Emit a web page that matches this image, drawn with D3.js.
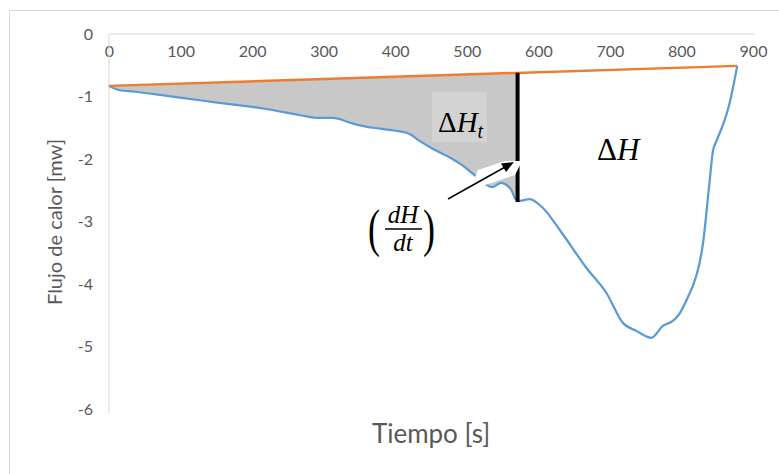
<!DOCTYPE html>
<html>
<head>
<meta charset="utf-8">
<script src="https://cdn.jsdelivr.net/npm/d3@7"></script>
<style>
  body { margin: 0; background: #fff; }
  svg { display: block; }
</style>
</head>
<body>
<svg id="chart" width="779" height="474"></svg>
<script>
// heat flow curve (time s, flow mW)
const time = [0, 15, 34, 81, 127, 174, 220, 267, 290, 313, 337, 346, 369, 402, 420, 434, 453, 472, 495, 509,
  536, 548, 562, 568, 574, 588, 606, 634, 667, 695, 718, 737, 758, 774, 788, 797, 811, 816, 825, 830,
  839, 844, 849, 860, 867, 872, 878];
const flow = [-0.83, -0.90, -0.92, -0.99, -1.06, -1.13, -1.20, -1.30, -1.34, -1.34, -1.42, -1.45, -1.50, -1.55, -1.60, -1.71, -1.84, -1.95, -2.11, -2.24,
  -2.45, -2.38, -2.49, -2.64, -2.67, -2.64, -2.78, -3.20, -3.74, -4.14, -4.62, -4.75, -4.86, -4.67, -4.59, -4.48, -4.16, -4.03, -3.68, -3.36,
  -2.40, -1.87, -1.71, -1.39, -1.12, -0.86, -0.51];
// baseline
const baseTime = [0, 878];
const baseFlow = [-0.83, -0.51];
// time of the cut
const cutTime = 571;

const xTicks = [0, 100, 200, 300, 400, 500, 600, 700, 800, 900];
const yTicks = [0, -1, -2, -3, -4, -5, -6];

const svg = d3.select("#chart");
const x = d3.scaleLinear().domain([0, 900]).range([109, 753]);
const y = d3.scaleLinear().domain([0, -6]).range([34, 409]);

// outer frame
svg.append("rect").attr("x", 9.5).attr("y", 10.5).attr("width", 800).attr("height", 500)
  .attr("fill", "none").attr("stroke", "#d9d9d9");

const pts = time.map((t, i) => ({ t, v: flow[i] }));
const base = t => baseFlow[0] + (baseFlow[1] - baseFlow[0]) * (t - baseTime[0]) / (baseTime[1] - baseTime[0]);

// shaded ΔHt area
const shaded = pts.filter(d => d.t <= cutTime);
const cutV = d3.scaleLinear().domain([562, 568, 574]).range([-2.49, -2.64, -2.67])(cutTime);
shaded.push({ t: cutTime, v: cutV });
svg.append("path")
  .datum(shaded)
  .attr("fill", "#c8c8c8")
  .attr("d", d3.area().x(d => x(d.t)).y0(d => y(base(d.t))).y1(d => y(d.v)));

// ΔHt label box
svg.append("rect").attr("x", 432).attr("y", 92).attr("width", 55).attr("height", 50).attr("fill", "#d3d3d3");

// axes
const xAxis = svg.append("g").attr("transform", `translate(0,${y(0)})`)
  .call(d3.axisBottom(x).tickValues(xTicks).tickSize(0).tickPadding(12).tickFormat(d3.format("d")));
xAxis.select(".domain").attr("stroke", "#d9d9d9").attr("d", `M${x(0)},0H755`);
const yAxis = svg.append("g").attr("transform", `translate(${x(0)},0)`)
  .call(d3.axisLeft(y).tickValues(yTicks).tickSize(0).tickPadding(16).tickFormat(d3.format("d")));
yAxis.select(".domain").attr("stroke", "#d9d9d9").attr("d", `M0,${y(0)}V413`);
svg.selectAll(".tick text").attr("font-family", "Lato, sans-serif").attr("font-size", 16).attr("fill", "#595959");
yAxis.selectAll(".tick text").text(d => d === 0 ? "0" : "-" + Math.abs(d));

// curves
svg.append("path").datum(pts)
  .attr("fill", "none").attr("stroke", "#5b9bd5").attr("stroke-width", 2.25).attr("stroke-linejoin", "round")
  .attr("d", d3.line().curve(d3.curveMonotoneX).x(d => x(d.t)).y(d => y(d.v)));
svg.append("path").datum(baseTime.map((t, i) => ({ t, v: baseFlow[i] })))
  .attr("fill", "none").attr("stroke", "#ed7d31").attr("stroke-width", 2.5)
  .attr("d", d3.line().x(d => x(d.t)).y(d => y(d.v)));

// vertical cut
svg.append("line").attr("x1", x(cutTime)).attr("x2", x(cutTime))
  .attr("y1", y(base(cutTime))).attr("y2", y(cutV) + 2)
  .attr("stroke", "#000").attr("stroke-width", 4);

// arrow with white halo
const ax1 = 448, ay1 = 199, ax2 = 514, ay2 = 162;
svg.append("path").attr("d", "M470,190L478,170L505,161L522,161L515,175Z").attr("fill", "#fff");
svg.append("line").attr("x1", ax1).attr("y1", ay1).attr("x2", ax2 - 10).attr("y2", ay2 + 5.6)
  .attr("stroke", "#fff").attr("stroke-width", 4);
svg.append("line").attr("x1", ax1).attr("y1", ay1).attr("x2", ax2 - 8).attr("y2", ay2 + 4.5)
  .attr("stroke", "#000").attr("stroke-width", 1.5);
svg.append("path").attr("d", `M${ax2},${ay2}L${ax2 - 13},${ay2 + 1.5}L${ax2 - 8},${ay2 + 10}Z`).attr("fill", "#000");

// math labels
const serif = "'Liberation Serif', 'DejaVu Serif', serif";
const dHt = svg.append("text").attr("x", 438).attr("y", 132).attr("font-family", serif).attr("font-size", 29);
dHt.append("tspan").text("Δ");
dHt.append("tspan").attr("font-style", "italic").text("H");
dHt.append("tspan").attr("font-style", "italic").attr("font-size", 20).attr("dy", 6).text("t");

const dH = svg.append("text").attr("x", 597).attr("y", 160).attr("font-family", serif).attr("font-size", 31);
dH.append("tspan").text("Δ");
dH.append("tspan").attr("font-style", "italic").text("H");

svg.append("text").attr("transform", "translate(368,246) scale(0.9,1.3)").attr("font-family", serif)
  .attr("font-size", 40).text("(");
svg.append("text").attr("transform", "translate(423,246) scale(0.9,1.3)").attr("font-family", serif)
  .attr("font-size", 40).text(")");
svg.append("text").attr("x", 403).attr("y", 223).attr("text-anchor", "middle").attr("font-family", serif)
  .attr("font-style", "italic").attr("font-size", 25).text("dH");
svg.append("line").attr("x1", 385).attr("x2", 422).attr("y1", 229).attr("y2", 229).attr("stroke", "#000").attr("stroke-width", 1.3);
svg.append("text").attr("x", 403).attr("y", 251).attr("text-anchor", "middle").attr("font-family", serif)
  .attr("font-style", "italic").attr("font-size", 25).text("dt");

// axis titles
svg.append("text").attr("x", 431).attr("y", 443).attr("text-anchor", "middle")
  .attr("font-family", "Lato, sans-serif").attr("font-size", 26).attr("fill", "#595959").text("Tiempo [s]");
svg.append("text").attr("transform", "translate(62,222) rotate(-90)").attr("text-anchor", "middle")
  .attr("font-family", "Lato, sans-serif").attr("font-size", 20).attr("fill", "#595959").text("Flujo de calor [mw]");
</script>
</body>
</html>
